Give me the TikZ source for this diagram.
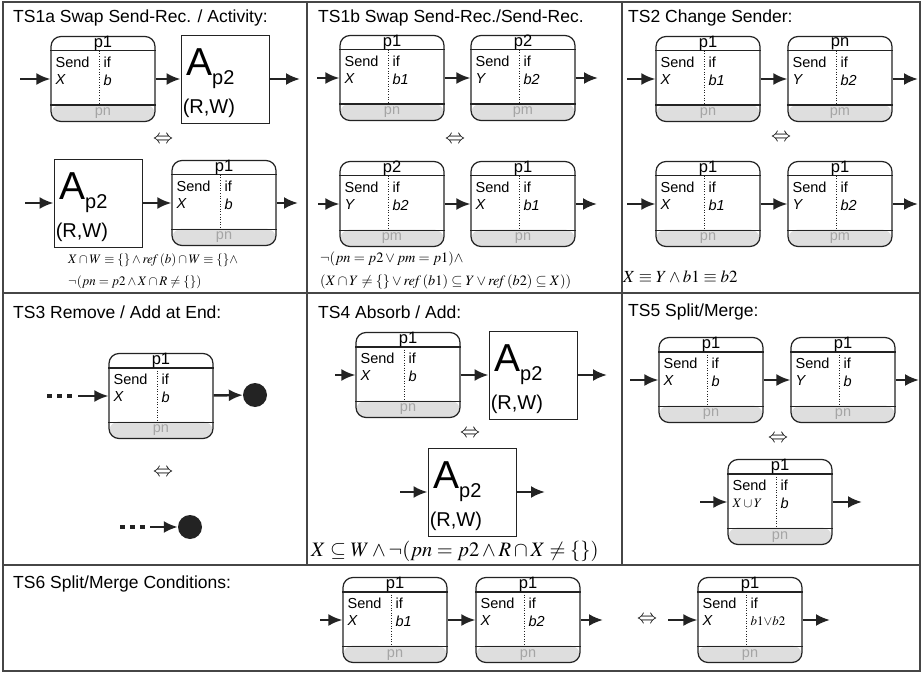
\documentclass[tikz,border=0pt]{standalone}
\usepackage{mathptmx}
\usepackage[no-math]{fontspec}
\setmainfont{Liberation Sans}
\usepackage{tikz}
\usetikzlibrary{arrows.meta,positioning,calc}
\definecolor{TSline}{RGB}{35,35,35}
\definecolor{TSframe}{RGB}{70,70,70}
\definecolor{TSfoot}{RGB}{222,222,222}
\definecolor{TSfoottxt}{RGB}{165,165,165}
\tikzstyle{pbox}   = [rectangle, rounded corners=10pt, draw=TSline, line width=1.2pt,
                      minimum width=104pt, minimum height=85pt, inner sep=0pt,
                      path picture={\fill[TSfoot] (path picture bounding box.south west)
                        rectangle ($(path picture bounding box.south east)+(0,17pt)$);}]
\tikzstyle{abox}   = [rectangle, draw=TSline, line width=0.9pt,
                      minimum width=88pt, minimum height=88pt, inner sep=0pt]
\tikzstyle{hd}     = [inner sep=0pt, font=\fontsize{16.5}{16.5}\selectfont]
\tikzstyle{cell}   = [inner sep=0pt, anchor=west, font=\fontsize{14.5}{14.5}\selectfont]
\tikzstyle{ft}     = [inner sep=0pt, text=TSfoottxt, font=\fontsize{14.5}{14.5}\selectfont]
\tikzstyle{ttl}    = [inner sep=0pt, anchor=west, font=\fontsize{17.5}{17.5}\selectfont]
\tikzstyle{fml}    = [inner sep=0pt, anchor=west, font=\fontsize{13}{13}\selectfont]
\tikzstyle{eqv}    = [inner sep=0pt, font=\fontsize{20}{20}\selectfont]
\tikzstyle{flow}   = [-{Latex[length=14pt,width=12pt]}, line width=2.4pt, TSline]
\tikzstyle{dotrun} = [line width=4pt, dash pattern=on 5pt off 5pt, TSline]
\tikzstyle{endpt}  = [circle, fill=TSline, minimum size=24pt, inner sep=0pt]
\tikzstyle{frame}  = [TSframe, line width=1.2pt]

% name, position, header, variable, condition, footer
\newcommand{\sendbox}[6]{%
  \node[pbox] (#1) at (#2) {};
  \draw[TSline, line width=1.2pt] ($(#1.north west)+(0,-15pt)$) -- ($(#1.north east)+(0,-15pt)$);
  \draw[TSline, line width=1.2pt] ($(#1.south west)+(0,17pt)$) -- ($(#1.south east)+(0,17pt)$);
  \draw[TSline, dotted, line width=0.6pt] ($(#1.north west)+(49pt,-15pt)$) -- ($(#1.south west)+(49pt,17pt)$);
  \node[hd]   (#1-hd)  at ($(#1.north)+(0,-7.5pt)$) {#3};
  \node[cell] (#1-snd) at ($(#1.north west)+(5pt,-26pt)$) {Send};
  \node[cell] (#1-var) at ($(#1.north west)+(5pt,-44pt)$) {#4};
  \node[cell] (#1-if)  at ($(#1.north west)+(53pt,-26pt)$) {if};
  \node[cell] (#1-cnd) at ($(#1.north west)+(53pt,-44pt)$) {#5};
  \node[ft]   (#1-ft)  at ($(#1.south)+(0,8.5pt)$) {#6};
}
% name, position
\newcommand{\actbox}[2]{%
  \node[abox] (#1) at (#2) {};
  \node[inner sep=0pt, anchor=base west, font=\fontsize{39}{39}\selectfont]
    (#1-a) at ($(#1.north west)+(6pt,-41pt)$) {A};
  \node[inner sep=0pt, anchor=base west, font=\fontsize{20}{20}\selectfont]
    (#1-sub) at ($(#1-a.base east)+(-1pt,-9pt)$) {p2};
  \node[inner sep=0pt, anchor=west, font=\fontsize{20}{20}\selectfont]
    (#1-rw) at ($(#1.north west)+(2pt,-74pt)$) {(R,W)};
}

\begin{document}
\begin{tikzpicture}[x=1pt, y=-1pt]
  \useasboundingbox (0,0) rectangle (924,674);
  \draw[frame] (3,2) rectangle (920,671);
  \draw[frame] (3,293) -- (920,293);
  \draw[frame] (3,565) -- (920,565);
  \draw[frame] (307,2) -- (307,565);
  \draw[frame] (622,2) -- (622,565);

  \node[ttl] (t1a) at (13,18)  {TS1a Swap Send-Rec. / Activity:};
  \node[ttl] (t1b) at (318,18) {TS1b Swap Send-Rec./Send-Rec.};
  \node[ttl] (t2)  at (628,18) {TS2 Change Sender:};
  \node[ttl] (t3)  at (13,312) {TS3 Remove / Add at End:};
  \node[ttl] (t4)  at (318,312) {TS4 Absorb / Add:};
  \node[ttl] (t5)  at (628,312) {TS5 Split/Merge:};
  \node[ttl] (t6)  at (13,584) {TS6 Split/Merge Conditions:};

  % TS1a
  \sendbox{a1}{103,79}{p1}{\textit{X}}{\textit{b}}{pn}
  \actbox{a2}{225,79}
  \coordinate (a-in) at (20,79);
  \coordinate (a-out) at (300,79);
  \draw[flow] (a-in) -- (a1);
  \draw[flow] (a1) -- (a2);
  \draw[flow] (a2) -- (a-out);
  \node[eqv] (a-eq) at (163,140) {$\Leftrightarrow$};
  \actbox{a3}{98,203}
  \sendbox{a4}{224,203}{p1}{\textit{X}}{\textit{b}}{pn}
  \coordinate (a-in2) at (25,203);
  \coordinate (a-out2) at (298,203);
  \draw[flow] (a-in2) -- (a3);
  \draw[flow] (a3) -- (a4);
  \draw[flow] (a4) -- (a-out2);
  \node[fml] (a-f1) at (68,260) {$X \cap W \equiv \{\} \wedge \mathit{ref}\,(b) \cap W \equiv \{\} \wedge$};
  \node[fml] (a-f2) at (68,282) {$\neg(pn = p2 \wedge X \cap R \neq \{\})$};

  % TS1b
  \sendbox{b1}{392,78}{p1}{\textit{X}}{\textit{b1}}{pn}
  \sendbox{b2}{523,78}{p2}{\textit{Y}}{\textit{b2}}{pm}
  \coordinate (b-in) at (317,78);
  \coordinate (b-out) at (598,78);
  \draw[flow] (b-in) -- (b1);
  \draw[flow] (b1) -- (b2);
  \draw[flow] (b2) -- (b-out);
  \node[eqv] (b-eq) at (455,140) {$\Leftrightarrow$};
  \sendbox{b3}{392,204}{p2}{\textit{Y}}{\textit{b2}}{pm}
  \sendbox{b4}{523,204}{p1}{\textit{X}}{\textit{b1}}{pn}
  \coordinate (b-in2) at (318,204);
  \coordinate (b-out2) at (597,204);
  \draw[flow] (b-in2) -- (b3);
  \draw[flow] (b3) -- (b4);
  \draw[flow] (b4) -- (b-out2);
  \node[fml, font=\fontsize{14.3}{14.3}\selectfont] (b-f1) at (320,259) {$\neg(pn = p2 \vee pm = p1) \wedge$};
  \node[fml, font=\fontsize{14.3}{14.3}\selectfont] (b-f2) at (320,282) {$(X \cap Y \neq \{\} \vee \mathit{ref}\,(b1) \subseteq Y \vee \mathit{ref}\,(b2) \subseteq X))$};

  % TS2
  \sendbox{c1}{708,79}{p1}{\textit{X}}{\textit{b1}}{pn}
  \sendbox{c2}{840,79}{pn}{\textit{Y}}{\textit{b2}}{pm}
  \coordinate (c-in) at (627,79);
  \coordinate (c-out) at (918,79);
  \draw[flow] (c-in) -- (c1);
  \draw[flow] (c1) -- (c2);
  \draw[flow] (c2) -- (c-out);
  \node[eqv] (c-eq) at (781,138) {$\Leftrightarrow$};
  \sendbox{c3}{708,204}{p1}{\textit{X}}{\textit{b1}}{pn}
  \sendbox{c4}{840,204}{p1}{\textit{Y}}{\textit{b2}}{pm}
  \coordinate (c-in2) at (627,204);
  \coordinate (c-out2) at (918,204);
  \draw[flow] (c-in2) -- (c3);
  \draw[flow] (c3) -- (c4);
  \draw[flow] (c4) -- (c-out2);
  \node[fml, font=\fontsize{17}{17}\selectfont] (c-f) at (623,277) {$X \equiv Y \wedge b1 \equiv b2$};

  % TS3
  \sendbox{d1}{161,396}{p1}{\textit{X}}{\textit{b}}{pn}
  \node[endpt] (d-end) at (255,395) {};
  \coordinate (d-dot1) at (47,396);
  \coordinate (d-dot2) at (73,396);
  \coordinate (d-in) at (78,396);
  \draw[dotrun] (d-dot1) -- (d-dot2);
  \draw[flow] (d-in) -- (d1);
  \draw[flow] (d1) -- (d-end);
  \node[eqv] (d-eq) at (163,473) {$\Leftrightarrow$};
  \node[endpt] (d-end2) at (190,527) {};
  \coordinate (d-dot3) at (120,527);
  \coordinate (d-dot4) at (146,527);
  \coordinate (d-in2) at (150,527);
  \draw[dotrun] (d-dot3) -- (d-dot4);
  \draw[flow] (d-in2) -- (d-end2);

  % TS4
  \sendbox{e1}{408,375}{p1}{\textit{X}}{\textit{b}}{pn}
  \actbox{e2}{533,375}
  \coordinate (e-in) at (335,375);
  \coordinate (e-out) at (607,375);
  \draw[flow] (e-in) -- (e1);
  \draw[flow] (e1) -- (e2);
  \draw[flow] (e2) -- (e-out);
  \node[eqv] (e-eq) at (470,434) {$\Leftrightarrow$};
  \actbox{e3}{472,492}
  \coordinate (e-in2) at (400,492);
  \coordinate (e-out2) at (545,492);
  \draw[flow] (e-in2) -- (e3);
  \draw[flow] (e3) -- (e-out2);
  \node[fml, font=\fontsize{20.5}{20.5}\selectfont] (e-f) at (311,551) {$X \subseteq W \wedge \neg(pn = p2 \wedge R \cap X \neq \{\})$};

  % TS5
  \sendbox{f1}{711,380}{p1}{\textit{X}}{\textit{b}}{pn}
  \sendbox{f2}{843,380}{p1}{\textit{Y}}{\textit{b}}{pn}
  \coordinate (f-in) at (630,380);
  \coordinate (f-out) at (919,380);
  \draw[flow] (f-in) -- (f1);
  \draw[flow] (f1) -- (f2);
  \draw[flow] (f2) -- (f-out);
  \node[eqv] (f-eq) at (778,439) {$\Leftrightarrow$};
  \sendbox{f3}{780,502}{p1}{{\fontsize{13}{13}\selectfont$X \cup Y$}}{\textit{b}}{pn}
  \coordinate (f-in2) at (700,502);
  \coordinate (f-out2) at (862,502);
  \draw[flow] (f-in2) -- (f3);
  \draw[flow] (f3) -- (f-out2);

  % TS6
  \sendbox{g1}{395,620}{p1}{\textit{X}}{\textit{b1}}{pn}
  \sendbox{g2}{528,620}{p1}{\textit{X}}{\textit{b2}}{pn}
  \coordinate (g-in) at (320,620);
  \coordinate (g-out) at (603,620);
  \draw[flow] (g-in) -- (g1);
  \draw[flow] (g1) -- (g2);
  \draw[flow] (g2) -- (g-out);
  \node[eqv] (g-eq) at (647,620) {$\Leftrightarrow$};
  \sendbox{g3}{750,620}{p1}{\textit{X}}{{\fontsize{13}{13}\selectfont$b1{\vee}b2$}}{pn}
  \coordinate (g-in2) at (668,620);
  \coordinate (g-out2) at (830,620);
  \draw[flow] (g-in2) -- (g3);
  \draw[flow] (g3) -- (g-out2);
\end{tikzpicture}
\end{document}
